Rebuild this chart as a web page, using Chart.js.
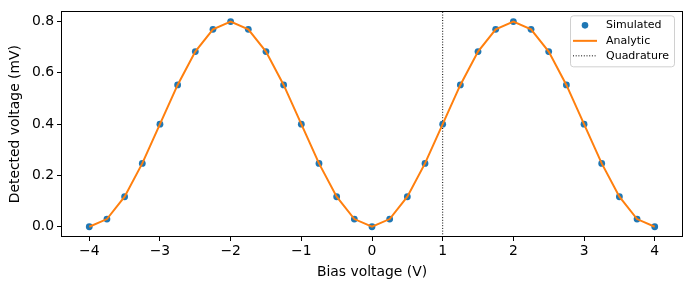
<!DOCTYPE html>
<html>
<head>
<meta charset="utf-8">
<script src="https://cdn.jsdelivr.net/npm/chart.js@4"></script>
<style>
  html, body { margin: 0; padding: 0; background: #fff; }
</style>
</head>
<body>
<canvas id="myChart" width="690" height="290"></canvas>
<script>
// data
var biasV = [-4, -3.75, -3.5, -3.25, -3, -2.75, -2.5, -2.25, -2, -1.75, -1.5, -1.25, -1, -0.75, -0.5, -0.25,
             0, 0.25, 0.5, 0.75, 1, 1.25, 1.5, 1.75, 2, 2.25, 2.5, 2.75, 3, 3.25, 3.5, 3.75, 4];
var simulatedMV = [0, 0.030, 0.117, 0.247, 0.400, 0.553, 0.683, 0.770, 0.800, 0.770, 0.683, 0.553, 0.400, 0.247, 0.117, 0.030,
                   0, 0.030, 0.117, 0.247, 0.400, 0.553, 0.683, 0.770, 0.800, 0.770, 0.683, 0.553, 0.400, 0.247, 0.117, 0.030, 0];
var analyticMV = [0, 0.030, 0.117, 0.247, 0.400, 0.553, 0.683, 0.770, 0.800, 0.770, 0.683, 0.553, 0.400, 0.247, 0.117, 0.030,
                  0, 0.030, 0.117, 0.247, 0.400, 0.553, 0.683, 0.770, 0.800, 0.770, 0.683, 0.553, 0.400, 0.247, 0.117, 0.030, 0];
var quadratureX = [1, 1];
var quadratureY = [-0.04, 0.84];
var xTicks = [-4, -3, -2, -1, 0, 1, 2, 3, 4];
var yTicks = [0, 0.2, 0.4, 0.6, 0.8];

var FONT = "'DejaVu Sans', sans-serif";

function pts(xs, ys) {
    var out = [];
    for (var i = 0; i < xs.length; i++) out.push({x: xs[i], y: ys[i]});
    return out;
}

function minus(v) {
    return String(v).replace('-', '\u2212');
}

// box around the plot area
var frame = {
    id: 'frame',
    afterDraw: function(chart) {
        var a = chart.chartArea, ctx = chart.ctx;
        ctx.save();
        ctx.strokeStyle = '#000';
        ctx.lineWidth = 1;
        ctx.strokeRect(Math.round(a.left) + 0.5, Math.round(a.top) + 0.5,
                       Math.round(a.right - a.left) - 1, Math.round(a.bottom - a.top) - 1);
        ctx.restore();
    }
};

// matplotlib style legend in upper right corner
var boxLegend = {
    id: 'boxLegend',
    afterDraw: function(chart) {
        var a = chart.chartArea, ctx = chart.ctx;
        var w = 104, h = 51;
        var x0 = a.right - 9 - w, y0 = a.top + 4;
        ctx.save();
        ctx.beginPath();
        ctx.roundRect(x0 + 0.5, y0 + 0.5, w, h, 3);
        ctx.fillStyle = 'rgba(255,255,255,0.8)';
        ctx.fill();
        ctx.strokeStyle = '#d0d0d0';
        ctx.lineWidth = 1;
        ctx.stroke();

        var rows = [y0 + 10, y0 + 25.5, y0 + 40.5];
        var lx0 = x0 + 3, lx1 = x0 + 27, tx = x0 + 36;
        // Simulated
        ctx.beginPath();
        ctx.arc((lx0 + lx1) / 2, rows[0], 3.3, 0, Math.PI * 2);
        ctx.fillStyle = '#1f77b4';
        ctx.fill();
        // Analytic
        ctx.beginPath();
        ctx.moveTo(lx0, rows[1]); ctx.lineTo(lx1, rows[1]);
        ctx.strokeStyle = '#ff7f0e';
        ctx.lineWidth = 2;
        ctx.stroke();
        // Quadrature
        ctx.beginPath();
        ctx.setLineDash([1, 1.7]);
        ctx.moveTo(lx0, rows[2]); ctx.lineTo(lx1, rows[2]);
        ctx.strokeStyle = '#000';
        ctx.lineWidth = 1;
        ctx.stroke();
        ctx.setLineDash([]);

        ctx.fillStyle = '#000';
        ctx.font = '11px ' + FONT;
        ctx.textBaseline = 'middle';
        ctx.fillText('Simulated', tx, rows[0]);
        ctx.fillText('Analytic', tx, rows[1]);
        ctx.fillText('Quadrature', tx, rows[2]);
        ctx.restore();
    }
};

var ctx = document.getElementById('myChart').getContext('2d');
var chart = new Chart(ctx, {
    type: 'scatter',
    data: {
        datasets: [
            {
                label: 'Analytic',
                type: 'line',
                data: pts(biasV, analyticMV),
                borderColor: '#ff7f0e',
                borderWidth: 2,
                pointRadius: 0,
                tension: 0,
                fill: false,
                order: 0
            },
            {
                label: 'Simulated',
                data: pts(biasV, simulatedMV),
                backgroundColor: '#1f77b4',
                borderColor: '#1f77b4',
                borderWidth: 0,
                pointRadius: 3.4,
                showLine: false,
                order: 1
            },
            {
                label: 'Quadrature',
                type: 'line',
                data: pts(quadratureX, quadratureY),
                borderColor: '#000',
                borderWidth: 1,
                borderDash: [1, 1.7],
                pointRadius: 0,
                fill: false,
                order: 2
            }
        ]
    },
    options: {
        responsive: false,
        animation: false,
        layout: { padding: { left: 7.5, top: 10, right: 7, bottom: 9 } },
        plugins: {
            legend: { display: false },
            tooltip: { enabled: false }
        },
        scales: {
            x: {
                type: 'linear',
                min: -4.4,
                max: 4.4,
                afterBuildTicks: function(scale) {
                    scale.ticks = xTicks.map(function(v) { return {value: v}; });
                },
                afterFit: function(scale) { scale.height = 44; },
                grid: { drawOnChartArea: false, drawTicks: true, tickLength: 4, color: '#000', lineWidth: 1 },
                border: { display: false },
                ticks: {
                    color: '#000',
                    padding: 2,
                    font: { family: FONT, size: 13.9 },
                    maxRotation: 0,
                    callback: function(v) { return minus(v); }
                },
                title: {
                    display: true,
                    text: 'Bias voltage (V)',
                    color: '#000',
                    font: { family: FONT, size: 13.9 },
                    padding: 0
                }
            },
            y: {
                type: 'linear',
                min: -0.04,
                max: 0.84,
                afterBuildTicks: function(scale) {
                    scale.ticks = yTicks.map(function(v) { return {value: v}; });
                },
                afterFit: function(scale) { scale.width = 53.5; },
                grid: { drawOnChartArea: false, drawTicks: true, tickLength: 4, color: '#000', lineWidth: 1 },
                border: { display: false },
                ticks: {
                    color: '#000',
                    padding: 3,
                    font: { family: FONT, size: 13.9 },
                    callback: function(v) { return v.toFixed(1); }
                },
                title: {
                    display: true,
                    text: 'Detected voltage (mV)',
                    color: '#000',
                    font: { family: FONT, size: 13.9 },
                    padding: 0
                }
            }
        }
    },
    plugins: [frame, boxLegend]
});
</script>
</body>
</html>
